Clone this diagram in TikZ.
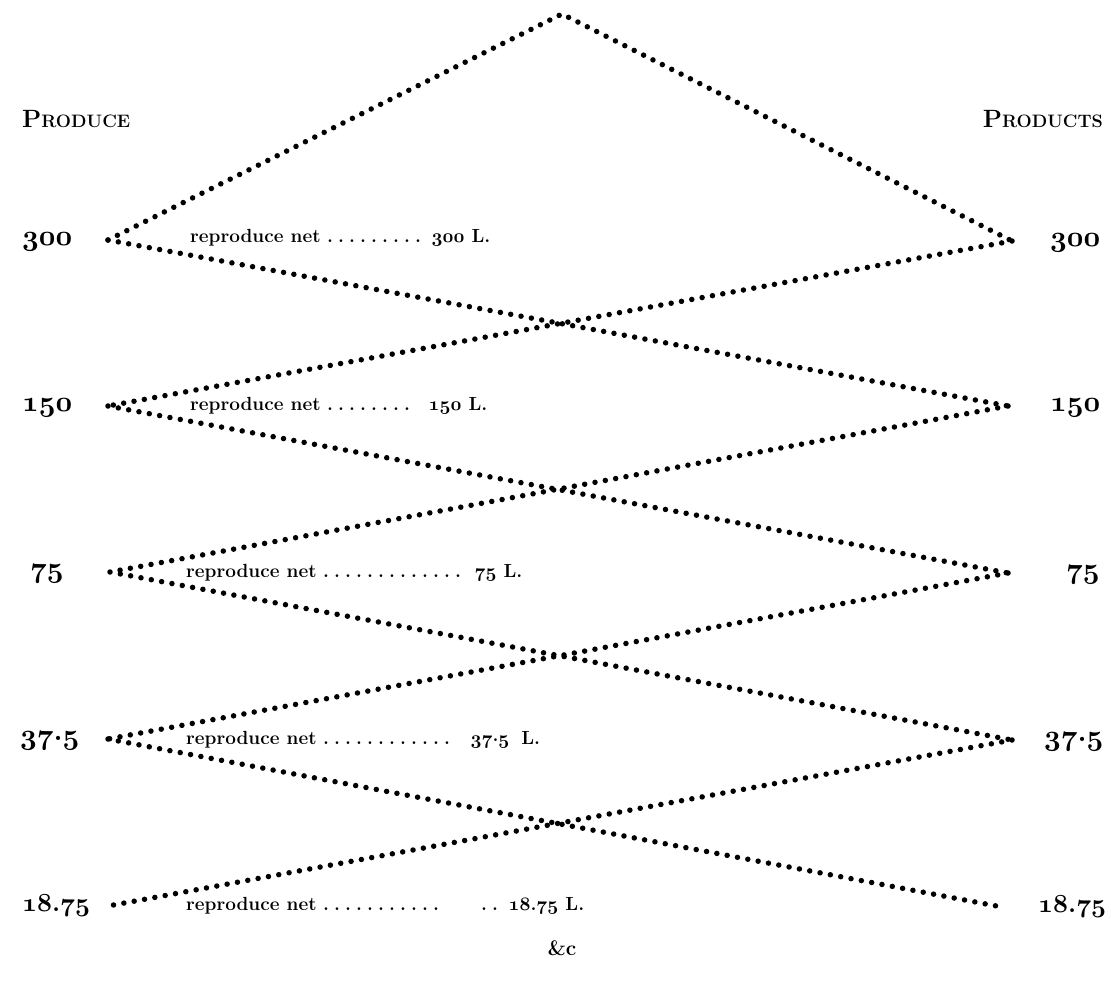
\documentclass[tikz,border=0pt]{standalone}
\usepackage{tikz}
\DeclareFontFamily{OML}{xcmm}{\skewchar\font=127}
\DeclareFontShape{OML}{xcmm}{b}{it}{<->cmmib10}{}
\newcommand{\ldr}[1]{\hbox to #1pt{\leaders\hbox to 11pt{\hss.\hss}\hfill}}
\newcommand{\osn}[1]{{\usefont{OML}{xcmm}{b}{it}#1}}
\newcommand{\mdt}{{\bfseries\raisebox{0.25ex}{.}}}
\begin{document}
\begin{tikzpicture}[x=1pt,y=-1pt,
  zz/.style={line width=5.5pt,dash pattern=on 0pt off 10.5pt,line cap=round},
  num/.style={font=\fontsize{29}{29}\selectfont\bfseries,inner sep=0pt},
  numsm/.style={font=\fontsize{26}{26}\selectfont\bfseries,inner sep=0pt},
  hdr/.style={font=\fontsize{25}{25}\selectfont\bfseries,inner sep=0pt},
  mid/.style={font=\fontsize{19}{20}\selectfont\bfseries,inner sep=0pt,anchor=base west}]
\useasboundingbox (0,0) rectangle (1111,980);
% vertices
\coordinate (A) at (562,14);
\coordinate (L1) at (108,240); \coordinate (R1) at (1012,241);
\coordinate (L2) at (108,406); \coordinate (R2) at (1008,406);
\coordinate (L3) at (110,572); \coordinate (R3) at (1008,573);
\coordinate (L4) at (108,739); \coordinate (R4) at (1012,740);
\coordinate (L5) at (108,906); \coordinate (R5) at (1002,907);
% zigzag lines
\draw[zz] (L1) -- (A) -- (R1);
\draw[zz] (L1) -- (R2); \draw[zz] (R1) -- (L2);
\draw[zz] (L2) -- (R3); \draw[zz] (R2) -- (L3);
\draw[zz] (L3) -- (R4); \draw[zz] (R3) -- (L4);
\draw[zz] (L4) -- (R5); \draw[zz] (R4) -- (L5);
% headers
\node[hdr,anchor=west] (hl) at (22,119) {P{\fontsize{18}{18}\selectfont RODUCE}};
\node[hdr,anchor=east] (hr) at (1103,119) {P{\fontsize{18}{18}\selectfont RODUCTS}};
% left numbers
\node[num,anchor=base west] (nl1) at (22,245) {\osn{300}};
\node[num,anchor=base west] (nl2) at (22,411) {\osn{150}};
\node[num,anchor=base west] (nl3) at (30,577) {\osn{75}};
\node[num,anchor=base west] (nl4) at (20,744) {\osn{37}\mdt\osn{5}};
\node[numsm,anchor=base west] (nl5) at (22,911) {\osn{18}.\osn{75}};
% right numbers
\node[num,anchor=base west] (nr1) at (1050,246) {\osn{300}};
\node[num,anchor=base west] (nr2) at (1050,411) {\osn{150}};
\node[num,anchor=base west] (nr3) at (1066,578) {\osn{75}};
\node[num,anchor=base west] (nr4) at (1044,745) {\osn{37}\mdt\osn{5}};
\node[numsm,anchor=base west] (nr5) at (1038,912) {\osn{18}.\osn{75}};
% middle texts
\node[mid] (m1) at (190,242) {reproduce net\hspace{4pt}\ldr{104}\hspace{3pt}\osn{300} L.};
\node[mid] (m2) at (190,410) {reproduce net\hspace{4pt}\ldr{98}\hspace{6pt}\osn{150} L.};
\node[mid] (m3) at (186,577) {reproduce net\hspace{4pt}\ldr{150}\hspace{4pt}\osn{75} L.};
\node[mid] (m4) at (186,744) {reproduce net\hspace{4pt}\ldr{140}\hspace{10pt}\osn{37}\mdt\osn{5}\hspace{12pt}L.};
\node[mid] (m5) at (186,910) {reproduce net\hspace{4pt}\ldr{128}\hspace{30pt}\ldr{22}\hspace{8pt}\osn{18}.\osn{75} L.};
\node[mid,anchor=center,font=\fontsize{21}{21}\selectfont\bfseries] (etc) at (562,948) {\&c};
\end{tikzpicture}
\end{document}
